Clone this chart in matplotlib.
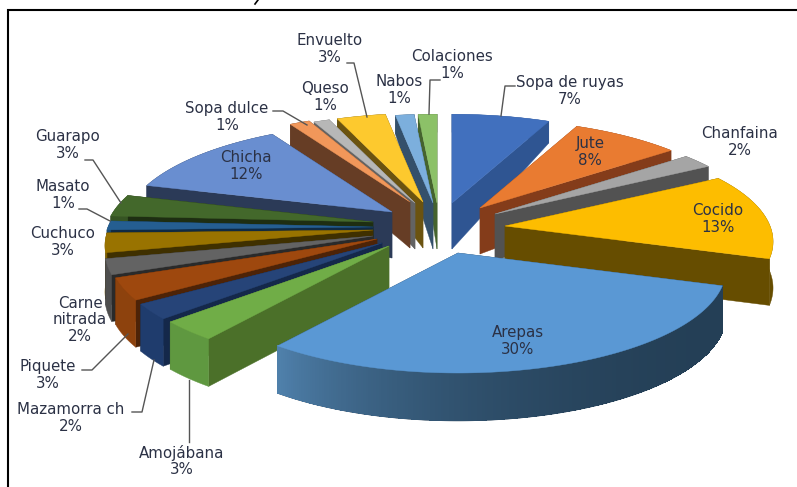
#3D exploded pie, drawn by hand because matplotlib has no 3D pie
import numpy as np
import matplotlib
matplotlib.use("Agg")
import matplotlib.pyplot as plt
from matplotlib.colors import to_rgb

# Data, clockwise from 12 o'clock
names = ["Sopa de ruyas", "Jute", "Chanfaina", "Cocido", "Arepas", "Amojábana",
         "Mazamorra ch", "Piquete", "Carne\nnitrada", "Cuchuco", "Masato", "Guarapo",
         "Chicha", "Sopa dulce", "Queso", "Envuelto", "Nabos", "Colaciones"]
values = [6.8, 7.6, 2.2, 13.3, 30.2, 3.1, 2.4, 3.4, 2.4, 3.0, 1.4, 3.4, 12.1, 1.4, 1.1, 3.4, 1.3, 1.3]

# Styles
top_col = ["#4170be", "#e97b31", "#a5a5a5", "#fdbd00", "#5a98d4", "#70ad47", "#264478", "#9e480e", "#636363",
           "#997300", "#255e91", "#43682b", "#698ed0", "#f1975a", "#b7b7b7", "#fdc92e", "#7cafdd", "#8cc168"]
side_col = ["#2f5592", "#843c1a", "#525252", "#664d00", "#243f56", "#4b7029", "#14284a", "#4d2307", "#2a2a2a",
            "#3f3000", "#0f2a44", "#1e2e12", "#2b3a57", "#663d25", "#636363", "#6b5310", "#34506b", "#45632e"]
outer_a = ["#2f5592", "#843c1a", "#525252", "#664d00", "#243f56", "#5f9840", "#1f3c6d", "#8d420d", "#4e4e4e",
           "#826100", "#1c4a72", "#365423", "#2b3a57", "#663d25", "#636363", "#6b5310", "#34506b", "#45632e"]
outer_b = ["#2f5592", "#843c1a", "#525252", "#664d00", "#4f80ab", "#5f9840", "#1f3c6d", "#8d420d", "#4e4e4e",
           "#826100", "#1c4a72", "#365423", "#2b3a57", "#663d25", "#636363", "#6b5310", "#34506b", "#45632e"]

# Pie layout in pixels: centre, size, perspective, and how far each slice is pulled out
cx, cy = 430, 228
rad_x, rad_y, persp = 265, 102, 0.15
explode_x = [22, 50, 65, 75, 28, -41, -48, -53, -57, -57, -57, -57, -38, -20, -15, -7, 3, 7]
explode_y = [-25, -20, -14, -2, 25, 18, 15, 11, 8, 2, -1, -6, -16, -26, -25, -26, -25, -25]

# Label centres and leader lines in pixels
label_x = [570, 590, 740, 718, 518, 182, 71, 48, 80, 63, 63, 68, 246, 227, 325, 330, 399, 452]
label_y = [91, 152, 142, 219, 341, 461, 418, 375, 320, 242, 195, 145, 166, 117, 97, 49, 90, 65]
leaders = [[(515, 86), (505, 86), (501, 116)], [(440, 80), (430, 80), (429, 114)],
           [(347, 63), (354, 63), (367, 117)], [(273, 111), (283, 111), (307, 125)],
           [(85, 160), (93, 160), (121, 203)], [(79, 209), (87, 209), (110, 221)],
           [(82, 370), (92, 370), (128, 334)], [(132, 412), (142, 412), (154, 360)],
           [(189, 442), (189, 380)]]


def rim(t):
    # t in radians clockwise from north, returns offset of the rim from the slice tip
    s = 1 / (1 + persp * np.cos(t))
    return rad_x * np.sin(t) * s, -rad_y * np.cos(t) * s


def depth(t):
    # wall gets shorter towards the back of the pie
    c = np.cos(t)
    return 46 - 28 * np.maximum(c, 0) ** 1.5 + 2 * np.maximum(-c, 0)


def mix(a, b, f):
    a, b = np.array(to_rgb(a)), np.array(to_rgb(b))
    return tuple(a + (b - a) * f)


fig = plt.figure(figsize=(7.97, 4.87), dpi=100)
ax = fig.add_axes([0, 0, 1, 1])
ax.set_xlim(0, 797)
ax.set_ylim(487, 0)
ax.axis("off")

vals = np.array(values)
edges = np.radians(np.concatenate([[0], np.cumsum(vals)]) / vals.sum() * 360)
mids = (edges[:-1] + edges[1:]) / 2

# paint from the back of the pie to the front
for i in np.argsort(-np.cos(mids)):
    a0, a1 = edges[i], edges[i + 1]
    px = cx + explode_x[i]
    py = cy + explode_y[i]
    ts = np.linspace(a0, a1, max(int(np.degrees(a1 - a0)) * 2, 6))
    rx, ry = rim(ts)
    x = px + rx
    y = py + ry
    h = depth(ts)
    h0 = depth(np.pi / 2)

    # the two straight walls
    for k in [0, -1]:
        ax.fill([px, x[k], x[k], px], [py, y[k], y[k] + h[k], py + h0], color=side_col[i], lw=0.3)

    # curved outer wall
    ax.fill(np.r_[x, x[::-1]], np.r_[y, (y + h)[::-1]], color=outer_a[i], lw=0.3)
    if outer_a[i] != outer_b[i]:
        # strips for the gradient, kept just inside the wall so the smooth edge stays
        for k in range(len(ts) - 1):
            f = ((k + 0.5) / (len(ts) - 1)) ** 3
            ax.fill([x[k], x[k + 1], x[k + 1], x[k]],
                    [y[k], y[k + 1], y[k + 1] + h[k + 1] - 0.8, y[k] + h[k] - 0.8],
                    color=mix(outer_a[i], outer_b[i], f), lw=0.6, antialiased=False)

    ax.fill(np.r_[px, x], np.r_[py, y], color=top_col[i], lw=0.3)

# frame
ax.plot([797, 8.5, 8.5], [9.5, 9.5, 487], color="black", lw=1.5, solid_joinstyle="miter")

# bit of a title cut off by the top of the picture
ax.plot([258, 255], [0, 4], color="black", lw=1.2)

for pts in leaders:
    ax.plot([p[0] for p in pts], [p[1] for p in pts], color="#555555", lw=1)

for i, n in enumerate(names):
    ax.text(label_x[i], label_y[i], f"{n}\n{round(values[i])}%", ha="center", va="center",
            fontsize=10.8, color="#2b3145", linespacing=1.15, family="DejaVu Sans")

fig.savefig("out.png", dpi=100)
